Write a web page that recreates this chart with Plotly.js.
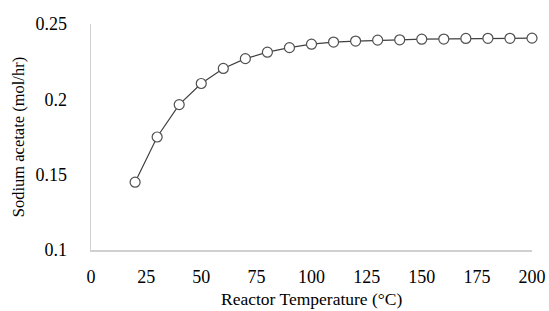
<!DOCTYPE html>
<html>
<head>
<meta charset="utf-8">
<script src="https://cdn.plot.ly/plotly-3.0.1.min.js"></script>
<style>html,body{margin:0;padding:0;background:#fff;}#chart{width:549px;height:311px;}</style>
</head>
<body>
<div id="chart"></div>
<script>
const temperature = [20, 30, 40, 50, 60, 70, 80, 90, 100, 110, 120, 130, 140, 150, 160, 170, 180, 190, 200];
const sodiumAcetate = [0.145, 0.175, 0.1965, 0.2105, 0.2205, 0.227, 0.2313, 0.2343, 0.2366, 0.238, 0.2387, 0.2393, 0.2395, 0.2399, 0.24, 0.2404, 0.2405, 0.2405, 0.2406];
const xTicks = [0, 25, 50, 75, 100, 125, 150, 175, 200];
const yTicks = [0.1, 0.15, 0.2, 0.25];
const yTickText = ['0.1', '0.15', '0.2', '0.25'];
const xTitle = 'Reactor Temperature (°C)';
const yTitle = 'Sodium acetate (mol/hr)';

const fam = 'Times New Roman, Liberation Serif, serif';
const tickFont = {family: fam, color: '#000', size: 18};

Plotly.newPlot('chart', [{
  x: temperature, y: sodiumAcetate, type: 'scatter', mode: 'lines+markers',
  line: {color: '#404040', width: 1.2},
  marker: {symbol: 'circle', size: 10, color: '#fff', line: {color: '#505050', width: 1.2}},
  cliponaxis: false
}], {
  width: 549, height: 311,
  margin: {l: 91, r: 17, t: 24, b: 61},
  paper_bgcolor: '#fff', plot_bgcolor: '#fff',
  showlegend: false,
  font: tickFont,
  xaxis: {
    range: [0, 200], tickvals: xTicks, ticktext: xTicks.map(String),
    showgrid: false, zeroline: false, showline: true, linecolor: '#d0d0d0', linewidth: 1.5,
    ticks: '', ticklabelstandoff: 10, tickfont: tickFont
  },
  yaxis: {
    range: [0.1, 0.25], tickvals: yTicks, ticktext: yTickText,
    showgrid: false, zeroline: false, showline: true, linecolor: '#d0d0d0', linewidth: 1.5,
    ticks: '', ticklabelstandoff: 19, tickfont: tickFont,
    title: {text: yTitle, font: {family: fam, size: 16.5, color: '#000'}, standoff: 6}
  },
  annotations: [{
    text: xTitle, xref: 'paper', yref: 'paper', x: 0.5, y: 0,
    xanchor: 'center', yanchor: 'bottom', yshift: -60, showarrow: false,
    borderpad: 0,
    font: {family: fam, size: 17.5, color: '#000'}
  }]
}, {displayModeBar: false, staticPlot: true});
</script>
</body>
</html>
